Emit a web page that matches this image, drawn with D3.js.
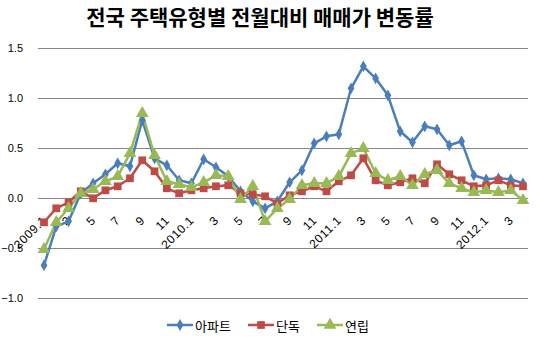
<!DOCTYPE html>
<html><head><meta charset="utf-8">
<script src="https://cdn.jsdelivr.net/npm/d3@7/dist/d3.min.js"></script>
<style>body{margin:0;background:#fff}svg{display:block}</style>
</head><body>
<svg id="c" width="536" height="339"></svg>
<script>
const months = [
 "2009.1","2","3","4","5","6","7","8","9","10","11","12",
 "2010.1","2","3","4","5","6","7","8","9","10","11","12",
 "2011.1","2","3","4","5","6","7","8","9","10","11","12",
 "2012.1","2","3","4"];
const apt = [-0.67,-0.28,-0.23,0.05,0.15,0.24,0.35,0.32,0.78,0.40,0.33,0.18,
 0.15,0.39,0.31,0.22,0.07,-0.03,-0.10,-0.03,0.16,0.28,0.55,0.62,
 0.64,1.10,1.32,1.20,1.03,0.67,0.56,0.72,0.69,0.53,0.57,0.23,
 0.19,0.20,0.19,0.15];
const house = [-0.24,-0.10,-0.04,0.07,0.00,0.08,0.12,0.20,0.38,0.27,0.10,0.05,
 0.08,0.10,0.12,0.13,0.05,0.04,0.02,-0.05,0.03,0.07,0.12,0.07,
 0.17,0.23,0.40,0.18,0.13,0.16,0.20,0.15,0.34,0.24,0.18,0.12,
 0.13,0.18,0.13,0.12];
const row = [-0.51,-0.24,-0.10,0.05,0.09,0.17,0.22,0.45,0.85,0.43,0.17,0.14,
 0.11,0.16,0.23,0.22,-0.01,0.12,-0.23,-0.10,-0.01,0.13,0.15,0.15,
 0.22,0.45,0.50,0.25,0.18,0.22,0.13,0.24,0.28,0.15,0.10,0.06,
 0.08,0.06,0.08,-0.02];
const seriesNames = ["아파트","단독","연립"];
const yTicks = [-1.0,-0.5,0.0,0.5,1.0,1.5];
const title = "전국 주택유형별 전월대비 매매가 변동률";

const colors = ["#4A7EBB","#BE4B48","#98B954"];
const symbols = [d3.symbolDiamond, d3.symbolSquare, d3.symbolTriangle];
const symSizes = [40, 60, 70];
const svg = d3.select("#c");
const L = 38, R = 528;
const x = d3.scalePoint().domain(d3.range(months.length)).range([44, 523]);
const y = d3.scaleLinear().domain([-1, 1.5]).range([298.3, 48.3]);

svg.append("text").attr("x", 260).attr("y", 25).attr("text-anchor","middle")
  .attr("font-family","Noto Sans CJK KR").attr("font-weight",700).attr("font-size",21)
  .text(title);

const ya = svg.append("g").attr("transform",`translate(${L},0)`)
  .call(d3.axisLeft(y).tickValues(yTicks).tickFormat(d3.format(".1f")).tickSize(-(R-L)).tickPadding(15));
ya.select(".domain").remove();
ya.selectAll("line").attr("stroke","#868686").attr("stroke-width",1).attr("shape-rendering","crispEdges");
ya.selectAll("text").attr("font-family","Liberation Sans").attr("font-size",11).attr("fill","#000");

const xa = svg.append("g").attr("transform",`translate(0,${y(0)})`)
  .call(d3.axisBottom(x).tickValues(d3.range(0, months.length, 2)).tickFormat(i => months[i]).tickSize(0));
xa.select(".domain").remove();
xa.selectAll("text").attr("font-family","Liberation Sans").attr("font-size",12).attr("fill","#000")
  .attr("letter-spacing","0.6px")
  .attr("text-anchor","end").attr("dy",null).attr("y",0).attr("dominant-baseline","central")
  .attr("transform","translate(0,20) rotate(-45)");

const data = [apt, house, row];
data.forEach((vals, si) => {
  const line = d3.line().x((d,i) => x(i)).y(d => y(d));
  svg.append("path").datum(vals).attr("d", line).attr("fill","none")
    .attr("stroke", colors[si]).attr("stroke-width", 2.5).attr("stroke-linejoin","round");
});
data.forEach((vals, si) => {
  svg.append("g").selectAll("path").data(vals).join("path")
    .attr("transform",(d,i) => `translate(${x(i)},${y(d)})`)
    .attr("d", d3.symbol().type(symbols[si]).size(symSizes[si])())
    .attr("fill", colors[si]);
});

const lx = [167, 248, 317];
seriesNames.forEach((n, si) => {
  const g = svg.append("g").attr("transform",`translate(${lx[si]},325)`);
  g.append("line").attr("x1",0).attr("x2",26).attr("stroke",colors[si]).attr("stroke-width",2.5);
  g.append("path").attr("transform","translate(13,0)")
    .attr("d", d3.symbol().type(symbols[si]).size(symSizes[si])()).attr("fill",colors[si]);
  g.append("text").attr("x",28).attr("y",0).attr("dominant-baseline","central")
    .attr("font-family","Noto Sans CJK KR").attr("font-size",13).text(n);
});
</script>
</body></html>
